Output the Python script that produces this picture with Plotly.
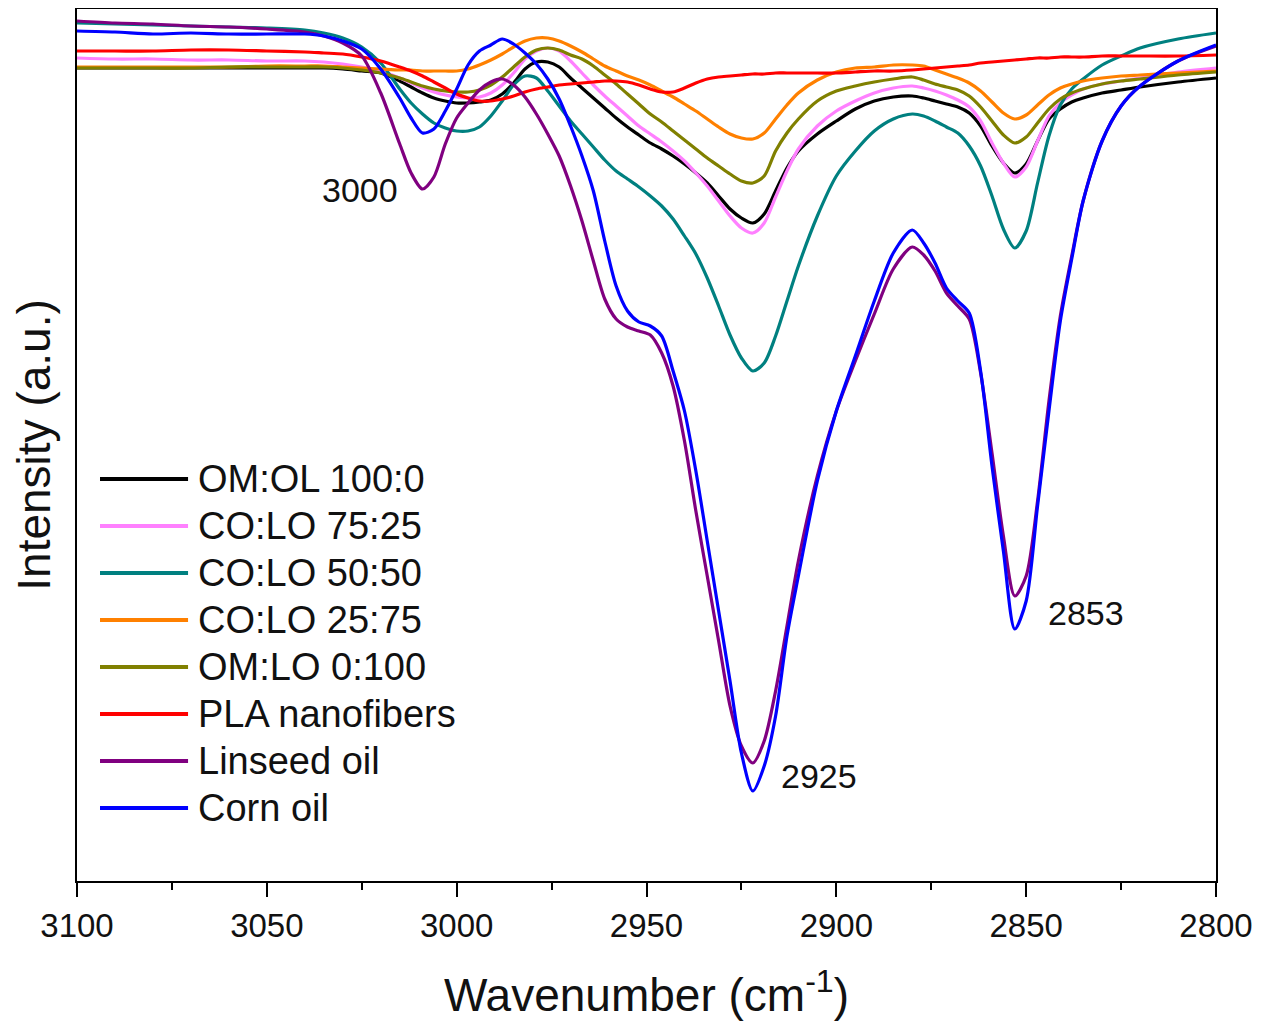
import plotly.graph_objects as go

# ---------------- data ----------------
wavenumber = [3100, 3090, 3080, 3070, 3060, 3050, 3040, 3035, 3030, 3025,
              3020, 3015, 3012, 3009, 3006, 3003, 3000, 2997, 2994, 2991,
              2988, 2985, 2982, 2979, 2976, 2973, 2970, 2967, 2964, 2961,
              2958, 2955, 2952, 2949, 2946, 2943, 2940, 2937, 2934, 2931,
              2928, 2925, 2922, 2919, 2916, 2913, 2910, 2905, 2900, 2895,
              2890, 2885, 2880, 2877, 2874, 2871, 2868, 2865, 2862, 2859,
              2856, 2853, 2850, 2847, 2844, 2841, 2838, 2835, 2830, 2825,
              2820, 2810, 2800]

om_ol_100_0 = [81.3, 81.3, 81.3, 81.3, 81.3, 81.3, 81.3, 81.3, 81.2, 81.0,
               80.8, 80.0, 79.4, 78.8, 78.3, 78.0, 77.8, 77.8, 77.9, 78.1,
               78.7, 79.8, 81.2, 81.9, 81.9, 81.4, 80.3, 79.3, 78.3, 77.3,
               76.3, 75.4, 74.6, 73.8, 73.2, 72.5, 71.7, 70.8, 69.8, 68.5,
               67.2, 66.3, 65.8, 66.7, 69.0, 71.3, 73.0, 74.7, 76.0, 77.2,
               78.0, 78.4, 78.5, 78.3, 78.0, 77.7, 77.4, 76.8, 75.5, 73.5,
               71.8, 70.8, 71.7, 74.0, 76.2, 77.2, 77.9, 78.3, 78.8, 79.1,
               79.4, 79.9, 80.3]

co_lo_75_25 = [82.3, 82.2, 82.2, 82.1, 82.1, 82.0, 82.0, 81.9, 81.7, 81.4,
               81.0, 80.3, 79.8, 79.3, 78.9, 78.6, 78.4, 78.3, 78.4, 78.8,
               79.6, 80.8, 82.2, 83.0, 83.3, 83.0, 82.0, 80.8, 79.6, 78.5,
               77.5, 76.5, 75.5, 74.7, 73.9, 73.0, 72.0, 70.8, 69.5, 68.0,
               66.5, 65.3, 64.8, 65.8, 68.4, 71.0, 73.2, 75.5, 77.0, 78.0,
               78.8, 79.3, 79.5, 79.3, 79.0, 78.6, 78.1, 77.4, 76.0, 73.8,
               71.8, 70.4, 71.4, 74.0, 76.5, 77.8, 78.6, 79.2, 79.7, 80.0,
               80.3, 80.9, 81.3]

co_lo_50_50 = [85.8, 85.7, 85.6, 85.5, 85.4, 85.3, 85.1, 84.8, 84.3, 83.4,
               81.8, 79.2, 77.8, 76.7, 75.8, 75.3, 75.0, 75.0, 75.4, 76.5,
               78.0, 79.6, 80.5, 80.3, 79.0, 77.5, 76.0, 74.7, 73.4, 72.1,
               71.0, 70.2, 69.4, 68.5, 67.5, 66.2, 64.5, 62.7, 60.3, 57.5,
               54.6, 52.3, 51.0, 51.8, 54.5, 58.0, 61.5, 66.5, 70.5, 73.0,
               75.0, 76.2, 76.7, 76.5, 76.0, 75.4, 74.8, 73.5, 71.5, 68.5,
               65.2, 63.3, 65.0, 69.8, 74.5, 77.6, 79.2, 80.2, 81.6, 82.5,
               83.3, 84.2, 84.8]

co_lo_25_75 = [81.4, 81.4, 81.4, 81.4, 81.4, 81.5, 81.5, 81.5, 81.4, 81.3,
               81.2, 81.1, 81.1, 81.0, 81.0, 81.0, 81.0, 81.2, 81.6, 82.1,
               82.7, 83.4, 84.0, 84.3, 84.3, 84.0, 83.5, 82.9, 82.2, 81.5,
               81.0, 80.5, 80.1, 79.6, 79.0, 78.4, 77.7, 77.0, 76.2, 75.4,
               74.7, 74.3, 74.2, 74.8, 76.2, 77.6, 78.8, 80.1, 80.9, 81.3,
               81.4, 81.6, 81.6, 81.5, 81.1, 80.7, 80.3, 79.8, 79.0, 77.9,
               76.8, 76.2, 76.6, 77.6, 78.6, 79.3, 79.7, 80.0, 80.3, 80.5,
               80.6, 80.8, 81.0]

om_lo_0_100 = [81.3, 81.3, 81.3, 81.3, 81.4, 81.4, 81.4, 81.4, 81.3, 81.1,
               80.8, 80.3, 79.9, 79.5, 79.2, 79.0, 78.9, 78.9, 79.1, 79.6,
               80.4, 81.4, 82.4, 83.1, 83.3, 83.1, 82.6, 82.2, 81.5, 80.6,
               79.7, 78.7, 77.7, 76.7, 75.9, 75.0, 74.1, 73.2, 72.3, 71.5,
               70.7, 70.0, 69.8, 70.5, 73.0, 74.8, 76.2, 78.0, 79.0, 79.5,
               79.9, 80.2, 80.4, 80.1, 79.7, 79.4, 79.1, 78.5, 77.4, 76.0,
               74.6, 73.8, 74.4, 75.8, 77.2, 78.2, 78.8, 79.2, 79.7, 80.0,
               80.2, 80.6, 80.9]

pla_nanofibers = [83.0, 83.0, 83.0, 83.1, 83.1, 83.0, 82.9, 82.8, 82.7, 82.4,
                  82.0, 81.4, 81.0, 80.5, 79.9, 79.3, 78.7, 78.3, 78.0, 78.0,
                  78.2, 78.5, 78.9, 79.2, 79.4, 79.6, 79.7, 79.8, 79.9, 80.0,
                  80.0, 79.9, 79.6, 79.2, 78.9, 78.9, 79.3, 79.8, 80.2, 80.4,
                  80.5, 80.6, 80.7, 80.7, 80.8, 80.8, 80.8, 80.8, 80.8, 80.9,
                  81.0, 81.0, 81.1, 81.2, 81.3, 81.4, 81.5, 81.6, 81.8, 81.9,
                  82.0, 82.1, 82.2, 82.3, 82.3, 82.4, 82.4, 82.4, 82.5, 82.5,
                  82.5, 82.5, 82.6]

linseed_oil = [86.0, 85.8, 85.7, 85.5, 85.4, 85.2, 84.9, 84.5, 83.8, 82.5,
               78.8, 73.7, 70.8, 69.2, 70.4, 73.7, 76.3, 77.8, 79.1, 79.9,
               80.2, 79.6, 78.4, 76.7, 74.7, 72.5, 69.5, 66.0, 62.0, 58.2,
               56.2, 55.4, 55.0, 54.6, 52.8, 49.5, 44.0, 37.0, 30.5, 24.0,
               17.5, 13.5, 11.8, 14.0, 19.0, 25.5, 32.0, 40.5, 47.0, 52.0,
               56.7, 61.2, 63.4, 62.6, 61.0, 58.8, 57.5, 56.2, 50.8, 42.8,
               34.5, 28.5, 30.5, 38.0, 48.0, 56.5, 62.5, 68.0, 74.0, 77.5,
               79.5, 82.0, 83.5]

corn_oil = [85.0, 84.9, 84.7, 84.8, 84.7, 84.7, 84.7, 84.5, 84.0, 83.2,
            81.2, 78.3, 76.3, 74.8, 75.2, 77.0, 79.2, 81.6, 83.0, 83.6,
            84.2, 83.7, 82.8, 81.7, 80.2, 78.2, 75.5, 72.5, 69.0, 64.0,
            59.5, 57.0, 55.9, 55.5, 54.5, 51.0, 47.0, 41.0, 34.0, 27.0,
            20.0, 12.8, 9.0, 11.5, 16.5, 24.5, 30.5, 40.0, 47.0, 52.5,
            58.0, 62.8, 65.1, 63.8, 61.8, 59.3, 58.0, 56.8, 51.0, 41.5,
            33.0, 25.2, 28.0, 37.5, 47.0, 56.0, 62.2, 68.0, 74.0, 77.5,
            79.5, 82.0, 83.6]

series_names = ["OM:OL 100:0", "CO:LO 75:25", "CO:LO 50:50", "CO:LO 25:75",
                "OM:LO 0:100", "PLA nanofibers", "Linseed oil", "Corn oil"]
series_values = [om_ol_100_0, co_lo_75_25, co_lo_50_50, co_lo_25_75,
                 om_lo_0_100, pla_nanofibers, linseed_oil, corn_oil]
series_colors = ["#000000", "#FF80FF", "#008080", "#FF8000",
                 "#808000", "#FF0000", "#800080", "#0000FF"]

peak_labels = ["3000", "2925", "2853"]
x_tick_values = [3100, 3050, 3000, 2950, 2900, 2850, 2800]

for s in series_values:
    assert len(s) == len(wavenumber)

FONT = "Arial, 'Liberation Sans', sans-serif"

fig = go.Figure()
for name, vals, col in zip(series_names, series_values, series_colors):
    fig.add_trace(go.Scatter(
        x=wavenumber, y=vals, name=name, mode="lines",
        line=dict(color=col, width=3.2, shape="spline", smoothing=0.8),
        showlegend=False,
    ))

# custom legend (long line samples like the original)
leg_x0, leg_x1, leg_tx = 0.0202, 0.0975, 0.1045
leg_top, leg_step = 0.461, 0.0539
shapes = []
annotations = []
for i, (name, col) in enumerate(zip(series_names, series_colors)):
    yy = leg_top - i * leg_step
    shapes.append(dict(type="line", xref="paper", yref="paper",
                       x0=leg_x0, x1=leg_x1, y0=yy, y1=yy,
                       line=dict(color=col, width=4)))
    annotations.append(dict(xref="paper", yref="paper", x=leg_tx, y=yy,
                            text=name, showarrow=False, xanchor="left",
                            yanchor="middle",
                            font=dict(family=FONT, size=38, color="#111111")))

# peak labels
for txt, (ax, ay) in zip(peak_labels, [(3025.5, 69.1), (2904.6, 10.5), (2834.3, 26.8)]):
    annotations.append(dict(x=ax, y=ay, xref="x", yref="y", text=txt,
                            showarrow=False, xanchor="center", yanchor="middle",
                            font=dict(family=FONT, size=34, color="#111111")))

# the page adds an 8 px body margin, so the figure is drawn 8 px smaller
fig.update_layout(
    width=1257, height=1013,
    margin=dict(l=69, r=49, t=1, b=140, autoexpand=False),
    paper_bgcolor="white", plot_bgcolor="white",
    font=dict(family=FONT, color="#111111"),
    shapes=shapes, annotations=annotations,
    showlegend=False,
)
fig.update_xaxes(
    range=[3100, 2800], autorange=False, automargin=False,
    tickvals=x_tick_values, ticktext=[str(v) for v in x_tick_values],
    ticks="outside", ticklen=14, tickwidth=2, tickcolor="black",
    tickfont=dict(family=FONT, size=33, color="#111111"),
    minor=dict(ticks="outside", dtick=25, tick0=2800, ticklen=7,
               tickwidth=2, tickcolor="black", showgrid=False),
    showline=True, linecolor="black", linewidth=2, mirror=True,
    showgrid=False, zeroline=False,
    title=dict(text="Wavenumber (cm<sup>-1</sup>)",
               font=dict(family=FONT, size=46, color="#111111"), standoff=42),
)
fig.update_yaxes(
    range=[0, 87.2], autorange=False, automargin=False,
    showticklabels=False, ticks="",
    showline=True, linecolor="black", linewidth=2, mirror=True,
    showgrid=False, zeroline=False,
    title=dict(text="Intensity (a.u.)",
               font=dict(family=FONT, size=46, color="#111111"), standoff=15),
)

fig.write_html("out.html")
